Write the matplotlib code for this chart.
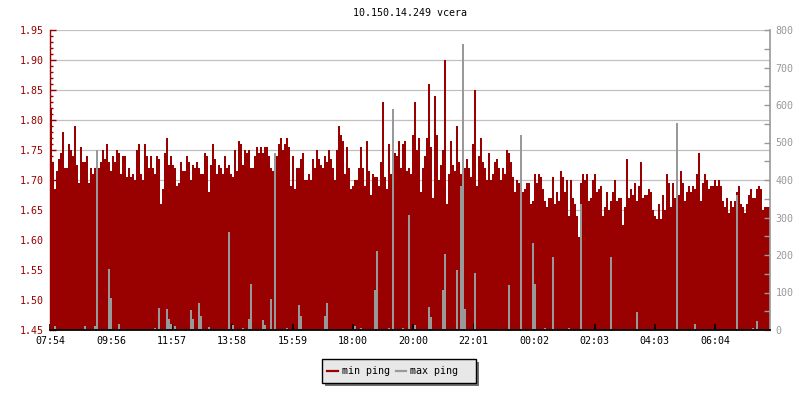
import numpy as np
import matplotlib
matplotlib.use("Agg")
import matplotlib.pyplot as plt
from matplotlib.patches import Rectangle
from matplotlib.lines import Line2D

# chart text
title = "10.150.14.249 vcera"
time_labels = ["07:54", "09:56", "11:57", "13:58", "15:59", "18:00",
               "20:00", "22:01", "00:02", "02:03", "04:03", "06:04"]
time_ticks = [0, 122, 243, 364, 485, 606, 726, 847, 968, 1089, 1209, 1330]  # minutes after 07:54
step_min = 4  # one value every 4 minutes

# min ping (left axis, ms)
min_ping = [
    1.82, 1.73, 1.685, 1.715, 1.735, 1.745, 1.78, 1.72, 1.72, 1.76,
    1.75, 1.74, 1.79, 1.725, 1.695, 1.755, 1.73, 1.73, 1.74, 1.695,
    1.72, 1.71, 1.72, 1.73, 1.72, 1.73, 1.75, 1.735, 1.76, 1.73,
    1.715, 1.74, 1.73, 1.75, 1.745, 1.71, 1.74, 1.74, 1.705, 1.72,
    1.705, 1.71, 1.70, 1.75, 1.76, 1.71, 1.70, 1.76, 1.74, 1.72,
    1.74, 1.72, 1.71, 1.74, 1.735, 1.66, 1.685, 1.745, 1.77, 1.725,
    1.74, 1.725, 1.72, 1.69, 1.695, 1.73, 1.715, 1.715, 1.74, 1.73,
    1.70, 1.725, 1.72, 1.73, 1.72, 1.71, 1.71, 1.745, 1.74, 1.68,
    1.725, 1.76, 1.735, 1.71, 1.725, 1.72, 1.71, 1.74, 1.72, 1.725,
    1.71, 1.705, 1.75, 1.715, 1.765, 1.76, 1.725, 1.75, 1.745, 1.75,
    1.72, 1.72, 1.74, 1.755, 1.745, 1.755, 1.745, 1.755, 1.755, 1.74,
    1.72, 1.715, 1.70, 1.74, 1.76, 1.77, 1.75, 1.76, 1.77, 1.755,
    1.69, 1.74, 1.685, 1.72, 1.72, 1.735, 1.745, 1.70, 1.70, 1.71,
    1.70, 1.735, 1.72, 1.75, 1.735, 1.725, 1.72, 1.74, 1.73, 1.75,
    1.735, 1.72, 1.70, 1.75, 1.79, 1.775, 1.765, 1.71, 1.755, 1.72,
    1.685, 1.69, 1.70, 1.70, 1.72, 1.755, 1.72, 1.69, 1.765, 1.715,
    1.675, 1.71, 1.705, 1.705, 1.69, 1.73, 1.83, 1.705, 1.685, 1.76,
    1.71, 1.71, 1.745, 1.74, 1.765, 1.72, 1.76, 1.765, 1.715, 1.72,
    1.71, 1.775, 1.83, 1.75, 1.77, 1.68, 1.72, 1.74, 1.77, 1.86,
    1.755, 1.67, 1.84, 1.775, 1.70, 1.725, 1.75, 1.90, 1.66, 1.71,
    1.765, 1.725, 1.715, 1.79, 1.73, 1.71, 1.705, 1.72, 1.735, 1.72,
    1.705, 1.76, 1.85, 1.69, 1.74, 1.77, 1.73, 1.72, 1.70, 1.745,
    1.70, 1.71, 1.73, 1.735, 1.72, 1.70, 1.72, 1.71, 1.75, 1.745,
    1.73, 1.705, 1.68, 1.70, 1.695, 1.69, 1.68, 1.685, 1.695, 1.695,
    1.66, 1.665, 1.71, 1.695, 1.71, 1.705, 1.685, 1.665, 1.655, 1.67,
    1.67, 1.705, 1.66, 1.68, 1.665, 1.715, 1.705, 1.68, 1.70, 1.64,
    1.70, 1.67, 1.66, 1.64, 1.605, 1.695, 1.71, 1.70, 1.71, 1.665,
    1.67, 1.70, 1.71, 1.68, 1.685, 1.69, 1.64, 1.655, 1.68, 1.65,
    1.665, 1.68, 1.70, 1.665, 1.67, 1.67, 1.625, 1.655, 1.735, 1.67,
    1.685, 1.675, 1.695, 1.665, 1.69, 1.73, 1.67, 1.675, 1.675, 1.685,
    1.68, 1.65, 1.64, 1.635, 1.66, 1.635, 1.675, 1.65, 1.71, 1.695,
    1.655, 1.695, 1.67, 1.68, 1.675, 1.715, 1.695, 1.665, 1.68, 1.69,
    1.68, 1.69, 1.685, 1.71, 1.745, 1.665, 1.695, 1.71, 1.70, 1.685,
    1.69, 1.69, 1.70, 1.69, 1.70, 1.69, 1.665, 1.655, 1.67, 1.645,
    1.665, 1.655, 1.665, 1.68, 1.69, 1.66, 1.655, 1.645, 1.66, 1.675,
    1.685, 1.67, 1.67, 1.685, 1.69, 1.685, 1.65, 1.655, 1.655, 1.655,
]

# max ping (right axis, ms)
max_ping = [
    3, 4, 10, 3, 3, 2, 3, 3, 4, 3, 3, 3, 2, 3, 3, 3, 3, 12, 3, 3,
    3, 4, 12, 479, 3, 3, 3, 4, 3, 163, 85, 3, 3, 2, 15, 4, 3, 3, 3, 3,
    3, 2, 3, 3, 4, 3, 3, 3, 2, 3, 3, 4, 5, 3, 58, 3, 3, 3, 57, 29,
    15, 3, 12, 3, 3, 2, 3, 3, 4, 3, 53, 30, 3, 3, 72, 37, 3, 3, 4, 8,
    3, 3, 2, 3, 3, 3, 4, 3, 3, 261, 4, 14, 3, 3, 3, 3, 5, 3, 3, 30,
    123, 3, 3, 2, 3, 3, 27, 13, 3, 3, 82, 3, 472, 4, 3, 3, 3, 3, 5, 3,
    3, 4, 3, 3, 67, 37, 3, 3, 3, 4, 3, 3, 3, 3, 2, 3, 3, 37, 72, 3,
    3, 3, 3, 3, 4, 3, 3, 3, 3, 3, 3, 4, 12, 3, 3, 5, 3, 3, 3, 3,
    3, 3, 107, 210, 3, 4, 3, 3, 3, 5, 3, 589, 4, 3, 3, 3, 5, 3, 4, 307,
    4, 3, 13, 3, 3, 4, 3, 3, 3, 62, 34, 3, 3, 4, 3, 3, 107, 203, 3, 3,
    3, 4, 3, 160, 3, 384, 763, 56, 3, 3, 3, 3, 151, 3, 4, 3, 3, 3, 4, 3,
    3, 3, 2, 3, 4, 3, 3, 3, 3, 120, 3, 3, 4, 3, 3, 520, 3, 3, 3, 3,
    3, 232, 122, 3, 3, 3, 3, 5, 3, 3, 3, 195, 3, 3, 3, 3, 4, 3, 3, 5,
    3, 3, 3, 3, 3, 336, 3, 4, 3, 3, 3, 3, 3, 4, 3, 3, 3, 3, 3, 3,
    195, 3, 3, 4, 3, 3, 3, 3, 3, 3, 3, 3, 3, 49, 3, 3, 3, 4, 3, 3,
    3, 3, 3, 3, 4, 3, 3, 3, 3, 3, 3, 3, 3, 552, 3, 3, 3, 3, 3, 4,
    3, 3, 15, 3, 3, 3, 4, 3, 3, 3, 3, 3, 3, 3, 3, 4, 3, 3, 3, 3,
    3, 3, 3, 360, 3, 3, 3, 4, 3, 3, 3, 5, 3, 25, 3, 3, 4, 3, 3, 3,
]

red = "#990000"
grey = "#999999"
grid_col = "#c0c0c0"

plt.rcParams["font.family"] = "DejaVu Sans Mono"
plt.rcParams["font.size"] = 7.2

W, H = 800, 400
fig = plt.figure(figsize=(W / 100, H / 100), dpi=100)
ax = fig.add_axes([50 / W, 70 / H, 720 / W, 300 / H])

edges = np.arange(len(min_ping) + 1) * step_min

# min ping area
ax.stairs(min_ping, edges, baseline=1.45, fill=True, color=red, linewidth=0, zorder=1)
ax.set_xlim(edges[0], edges[-1])
ax.set_ylim(1.45, 1.95)

yt = np.arange(1.45, 1.951, 0.05)
ax.set_yticks(yt)
ax.set_yticklabels([f"{v:.2f}" for v in yt])
ax.set_yticks(np.arange(1.45, 1.951, 0.01), minor=True)
ax.hlines(yt[1:], edges[0], edges[-1], color=grid_col, linewidth=0.9, zorder=0.5)

ax.set_xticks(time_ticks)
ax.set_xticklabels(time_labels)

ax.tick_params(axis="y", which="major", direction="in", length=4, width=1,
               color=red, labelcolor=red, pad=4.8)
ax.tick_params(axis="y", which="minor", direction="in", length=2.5, width=1, color=red)
ax.tick_params(axis="x", which="major", direction="in", length=4, width=1.2,
               color="black", labelcolor="black", pad=4)

ax.spines["top"].set_visible(False)
ax.spines["right"].set_visible(False)
ax.spines["left"].set_color(red)
ax.spines["left"].set_linewidth(1)
ax.spines["bottom"].set_visible(False)

# max ping on right axis
ax2 = ax.twinx()
ax2.stairs(max_ping, edges, baseline=0, fill=True, color=grey, linewidth=0)
ax2.set_ylim(0, 800)
ax2.set_yticks(np.arange(0, 801, 100))
ax2.set_yticks(np.arange(0, 801, 50), minor=True)
ax2.tick_params(axis="y", which="both", direction="in", length=4, width=1,
                color=grey, labelcolor=grey, pad=4)
ax2.spines["top"].set_visible(False)
ax2.spines["left"].set_visible(False)
ax2.spines["right"].set_color(grey)
ax2.spines["right"].set_linewidth(1.2)
ax2.spines["bottom"].set_color("black")
ax2.spines["bottom"].set_linewidth(1.3)

fig.text(410 / W, 1 - 13 / H, title, ha="center", va="center", color="black")


# legend box with shadow, placed in pixel terms
def px(x, y):
    return x / W, 1 - y / H


fig.patches.append(Rectangle(px(325, 386), 154 / W, 24 / H, transform=fig.transFigure,
                             facecolor="#707070", edgecolor="none", zorder=1))
fig.patches.append(Rectangle(px(322, 383), 154 / W, 24 / H, transform=fig.transFigure,
                             facecolor="#e8e8e8", edgecolor="black", linewidth=1, zorder=2))
ly = 1 - 371 / H
fig.lines.append(Line2D([327 / W, 338 / W], [ly, ly], transform=fig.transFigure,
                        color=red, linewidth=1.6, zorder=3))
fig.text(341.5 / W, ly, "min ping", ha="left", va="center", color="black", zorder=3)
fig.lines.append(Line2D([396 / W, 406 / W], [ly, ly], transform=fig.transFigure,
                        color=grey, linewidth=1.6, zorder=3))
fig.text(409.5 / W, ly, "max ping", ha="left", va="center", color="black", zorder=3)

fig.savefig("out.png", dpi=100)
